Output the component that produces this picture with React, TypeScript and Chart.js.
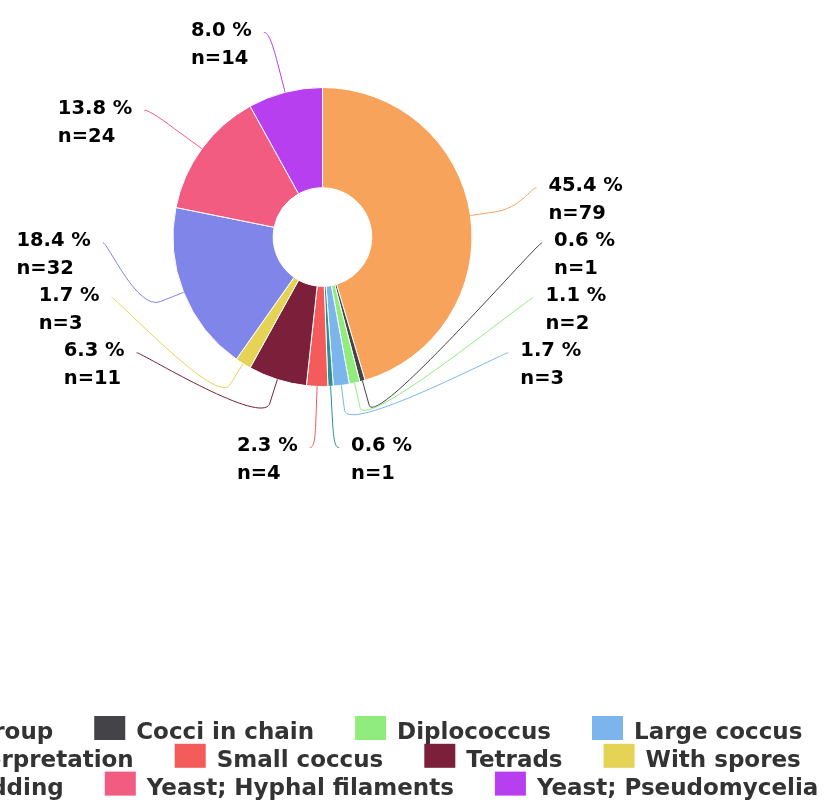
import React, { useEffect, useRef } from 'react';
import { Chart, registerables } from 'chart.js';

Chart.register(...registerables);

// ---- data ----
const categories: string[] = [
  'Cocci in group',
  'Cocci in chain',
  'Diplococcus',
  'Large coccus',
  'Other interpretation',
  'Small coccus',
  'Tetrads',
  'With spores',
  'Yeast; Budding',
  'Yeast; Hyphal filaments',
  'Yeast; Pseudomycelia',
];
const counts: number[] = [79, 1, 2, 3, 1, 4, 11, 3, 32, 24, 14];
const colors: string[] = [
  '#f7a35c',
  '#434348',
  '#90ed7d',
  '#7cb5ec',
  '#2b908f',
  '#f45b5b',
  '#7b1f3a',
  '#e4d354',
  '#8085e9',
  '#f15c80',
  '#b83ff0',
];

// ---- style constants ----
const FONT = '"DejaVu Sans", "Liberation Sans", sans-serif';
const LABEL_FONT_SIZE = 19.5;
const LABEL_RADIUS_RATIO = 1.436; // label circle / outer radius
const PAD_X = 5;
const TEXT_GAP = 12;
const EDGE_TOP = 10;
const EDGE_BOTTOM = 4;
const BLOCK_H = 55;
const BOTTOM_GAP = 95;
const CONNECTOR_OFFSET = 25;

const LEGEND_FONT_SIZE = 23;
const LEGEND_TOP = 716;
const LEGEND_ROW_H = 27.8;
const LEGEND_BOX_W = 31;
const LEGEND_BOX_H = 24;
const LEGEND_BOX_GAP = 11;
const LEGEND_ITEM_GAP = 41;
const LEGEND_MAX_W = 1040;

type Item = {
  i: number;
  cos: number;
  sin: number;
  right: boolean;
  natural: number;
  x: number;
  y: number;
};

function distribute(list: Item[], lo: number, hi: number, h: number) {
  if (!list.length) return;
  let groups = list.map((it) => ({ members: [it], targets: [it.natural], pos: 0 }));
  let overlapping = true;
  let guard = 0;
  while (overlapping && guard++ < 100) {
    for (const g of groups) {
      const n = g.members.length;
      const mid = (Math.min(...g.targets) + Math.max(...g.targets)) / 2;
      const v = mid - ((n - 1) * h) / 2;
      g.pos = Math.max(lo, Math.min(v, hi - (n - 1) * h));
    }
    overlapping = false;
    for (let k = groups.length - 1; k > 0; k--) {
      const a = groups[k - 1];
      const b = groups[k];
      if (a.pos + a.members.length * h > b.pos + 0.001) {
        a.members = a.members.concat(b.members);
        a.targets = a.targets.concat(b.targets);
        groups.splice(k, 1);
        overlapping = true;
      }
    }
  }
  groups.forEach((g) => g.members.forEach((m, k) => (m.y = g.pos + k * h)));
}

const outLabelsPlugin = {
  id: 'outLabels',
  afterDatasetsDraw(chart: any) {
    const meta = chart.getDatasetMeta(0);
    const arcs = meta.data as any[];
    if (!arcs.length) return;
    const values = chart.data.datasets[0].data as number[];
    const bg = chart.data.datasets[0].backgroundColor as string[];
    const total = values.reduce((a, b) => a + b, 0);
    const ctx: CanvasRenderingContext2D = chart.ctx;
    const cx = arcs[0].x;
    const cy = arcs[0].y;
    const r = arcs[0].outerRadius;
    const R = r * LABEL_RADIUS_RATIO;
    const yMin = cy - R + EDGE_TOP;
    const yMax = cy + R - EDGE_BOTTOM;
    const getX = (y: number, right: boolean) =>
      cx + (right ? 1 : -1) * (Math.sqrt(Math.max(0, R * R - (y - cy) * (y - cy))) + PAD_X);

    const items: Item[] = arcs.map((arc, i) => {
      const mid = (arc.startAngle + arc.endAngle) / 2;
      const cos = Math.cos(mid);
      const sin = Math.sin(mid);
      return { i, cos, sin, right: cos >= 0, natural: cy + R * sin, x: 0, y: 0 };
    });

    for (const side of [true, false]) {
      const list = items.filter((it) => it.right === side).sort((a, b) => a.natural - b.natural);
      if (!list.length) continue;
      let lo = yMin;
      let hi = yMax;
      const rest = list.slice();
      const last = rest[rest.length - 1];
      if (last.natural > yMax) {
        last.y = yMax;
        last.x = getX(last.natural, side);
        rest.pop();
        hi = yMax - BOTTOM_GAP;
      }
      const first = rest[0];
      if (first && first.natural < yMin) {
        first.y = yMin;
        first.x = getX(first.natural, side);
        rest.shift();
        lo = yMin + BLOCK_H;
      }
      distribute(rest, lo, hi, BLOCK_H);
      rest.forEach((it) => (it.x = getX(it.y, side)));
    }

    ctx.save();
    // connectors
    for (const it of items) {
      const touchX = cx + r * it.cos;
      const touchY = cy + r * it.sin;
      const brX = cx + (r + CONNECTOR_OFFSET) * it.cos;
      const brY = cy + (r + CONNECTOR_OFFSET) * it.sin;
      ctx.beginPath();
      ctx.moveTo(it.x, it.y);
      ctx.bezierCurveTo(
        it.x + (it.right ? -5 : 5),
        it.y,
        2 * brX - touchX,
        2 * brY - touchY,
        brX,
        brY
      );
      ctx.lineTo(touchX, touchY);
      ctx.strokeStyle = bg[it.i];
      ctx.lineWidth = 1;
      ctx.stroke();
    }
    // texts
    ctx.font = `bold ${LABEL_FONT_SIZE}px ${FONT}`;
    ctx.fillStyle = '#000000';
    ctx.textAlign = 'left';
    ctx.textBaseline = 'alphabetic';
    for (const it of items) {
      const v = values[it.i];
      const lines = [`${((v / total) * 100).toFixed(1)} %`, `n=${v}`];
      const w = Math.max(...lines.map((l) => ctx.measureText(l).width));
      const left = it.right ? it.x + TEXT_GAP : it.x - TEXT_GAP - w;
      ctx.fillText(lines[0], left, it.y + 3.5);
      ctx.fillText(lines[1], left, it.y + 31.5);
    }
    ctx.restore();
  },
};

const bottomLegendPlugin = {
  id: 'bottomLegend',
  afterDraw(chart: any) {
    const ctx: CanvasRenderingContext2D = chart.ctx;
    const labels = chart.data.labels as string[];
    const bg = chart.data.datasets[0].backgroundColor as string[];
    ctx.save();
    ctx.font = `bold ${LEGEND_FONT_SIZE}px ${FONT}`;
    const entries = labels.map((t, i) => ({
      t,
      c: bg[i],
      w: LEGEND_BOX_W + LEGEND_BOX_GAP + ctx.measureText(t).width,
    }));
    const rows: { items: typeof entries; width: number }[] = [];
    for (const e of entries) {
      const row = rows[rows.length - 1];
      if (!row || row.width + LEGEND_ITEM_GAP + e.w > LEGEND_MAX_W) {
        rows.push({ items: [e], width: e.w });
      } else {
        row.items.push(e);
        row.width += LEGEND_ITEM_GAP + e.w;
      }
    }
    const maxW = Math.max(...rows.map((r) => r.width));
    const center = (chart.chartArea.left + chart.chartArea.right) / 2;
    const x0 = center - maxW / 2;
    ctx.textAlign = 'left';
    ctx.textBaseline = 'alphabetic';
    rows.forEach((row, ri) => {
      let x = x0;
      const y = LEGEND_TOP + ri * LEGEND_ROW_H;
      for (const e of row.items) {
        ctx.fillStyle = e.c;
        ctx.fillRect(x, y, LEGEND_BOX_W, LEGEND_BOX_H);
        ctx.fillStyle = '#333333';
        ctx.fillText(e.t, x + LEGEND_BOX_W + LEGEND_BOX_GAP, y + 23);
        x += e.w + LEGEND_ITEM_GAP;
      }
    });
    ctx.restore();
  },
};

export default function App() {
  const ref = useRef<HTMLCanvasElement | null>(null);
  useEffect(() => {
    if (!ref.current) return;
    const chart = new Chart(ref.current, {
      type: 'doughnut',
      data: {
        labels: categories,
        datasets: [
          {
            data: counts,
            backgroundColor: colors,
            borderColor: '#ffffff',
            borderWidth: 1,
            hoverOffset: 0,
          },
        ],
      },
      options: {
        responsive: false,
        animation: false,
        events: [],
        cutout: '33%',
        rotation: 0,
        layout: { padding: { top: 87, bottom: 417, left: 0, right: 180 } },
        plugins: {
          legend: { display: false },
          tooltip: { enabled: false },
          title: { display: false },
        },
      },
      plugins: [outLabelsPlugin, bottomLegendPlugin],
    });
    return () => chart.destroy();
  }, []);
  return (
    <div
      style={{
        position: 'fixed',
        left: 0,
        top: 0,
        width: 825,
        height: 804,
        overflow: 'hidden',
        background: '#ffffff',
      }}
    >
      <canvas ref={ref} width={825} height={804} style={{ display: 'block' }} />
    </div>
  );
}
